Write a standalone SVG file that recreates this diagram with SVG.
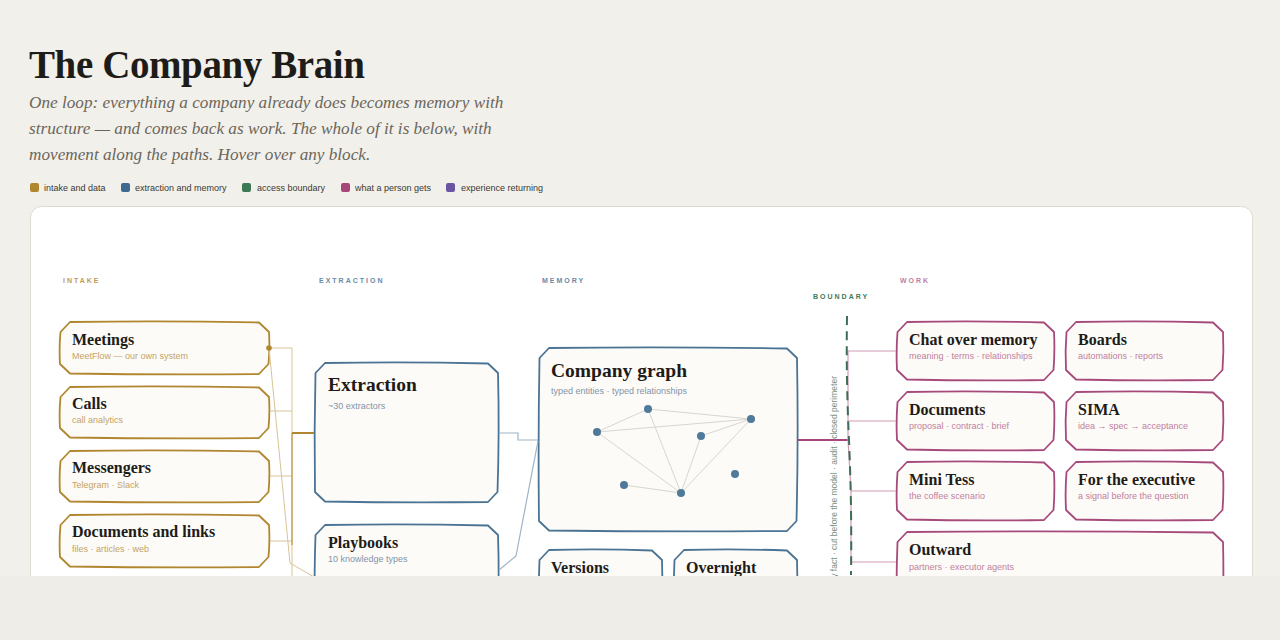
<svg xmlns="http://www.w3.org/2000/svg" width="1280" height="640" viewBox="0 0 1280 640">
<style>
.h1{font-family:"Liberation Serif",serif;font-weight:bold;font-size:39px;fill:#1e1c19;letter-spacing:-0.4px}
.lead{font-family:"Liberation Serif",serif;font-style:italic;font-size:17.2px;fill:#6b665c}
.lg{font-family:"Liberation Sans",sans-serif;font-size:9px;fill:#3a3833}
.col{font-family:"Liberation Sans",sans-serif;font-weight:bold;font-size:7px;letter-spacing:2px}
.t{font-family:"Liberation Serif",serif;font-weight:bold;font-size:16px;fill:#1e1c19}
.tl{font-family:"Liberation Serif",serif;font-weight:bold;font-size:19.5px;fill:#1e1c19}
.s{font-family:"Liberation Sans",sans-serif;font-size:9px}
.box{fill:#fdfbf7;stroke-width:1.8;stroke-linejoin:round}
.gold{stroke:#b0862f}.blue{stroke:#4a7394}.pink{stroke:#a64a7c}
.sg{fill:#c3a365}.sb{fill:#7f95aa}.sp{fill:#c07fa0}
</style>
<rect x="0" y="0" width="1280" height="640" fill="#f2f0ea"/>
<text class="h1" x="29" y="78">The Company Brain</text>
<text class="lead" x="29" y="108">One loop: everything a company already does becomes memory with</text>
<text class="lead" x="29" y="134">structure — and comes back as work. The whole of it is below, with</text>
<text class="lead" x="29" y="160">movement along the paths. Hover over any block.</text>
<g id="legend">
<rect x="30" y="183" width="9" height="9" rx="2" fill="#b0862f"/><text class="lg" x="44" y="191">intake and data</text>
<rect x="121" y="183" width="9" height="9" rx="2" fill="#3f6a8f"/><text class="lg" x="135" y="191">extraction and memory</text>
<rect x="242" y="183" width="9" height="9" rx="2" fill="#3b7a55"/><text class="lg" x="257" y="191">access boundary</text>
<rect x="341" y="183" width="9" height="9" rx="2" fill="#a8457a"/><text class="lg" x="355" y="191">what a person gets</text>
<rect x="446" y="183" width="9" height="9" rx="2" fill="#6a55a0"/><text class="lg" x="461" y="191">experience returning</text>
</g>
<rect x="30.5" y="206.5" width="1222" height="460" rx="11" fill="#ffffff" stroke="#dedbd1"/>
<g id="column-labels">
<text class="col" x="63" y="283" fill="#c29a58">INTAKE</text>
<text class="col" x="319" y="283" fill="#6a8aa6">EXTRACTION</text>
<text class="col" x="542" y="283" fill="#6a8aa6">MEMORY</text>
<text class="col" x="813" y="299" fill="#3d7a5a">BOUNDARY</text>
<text class="col" x="900" y="283" fill="#c07fa0">WORK</text>
</g>
<g id="meetings"><path class="box gold" d="M70,322 Q165,320.5 259,322.5 L269,332 Q270,348 268.5,364 L259,374 Q165,375 70,373.5 L60,364 Q59,348 60.5,332 Z"/><text class="t" x="72" y="345">Meetings</text><text class="s sg" x="72" y="359">MeetFlow — our own system</text></g>
<g id="calls"><path class="box gold" d="M70,387 Q165,385.5 259,387.5 L269,397 Q270,412 268.5,428 L259,438 Q165,439 70,437.5 L60,428 Q59,412 60.5,397 Z"/><text class="t" x="72" y="409">Calls</text><text class="s sg" x="72" y="423">call analytics</text></g>
<g id="messengers"><path class="box gold" d="M70,451 Q165,449.5 259,451.5 L269,461 Q270,476 268.5,492 L259,502 Q165,503 70,501.5 L60,492 Q59,476 60.5,461 Z"/><text class="t" x="72" y="473">Messengers</text><text class="s sg" x="72" y="488">Telegram · Slack</text></g>
<g id="documents-links"><path class="box gold" d="M70,515 Q165,513.5 259,515.5 L269,525 Q270,541 268.5,557 L259,567 Q165,568 70,566.5 L60,557 Q59,541 60.5,525 Z"/><text class="t" x="72" y="537">Documents and links</text><text class="s sg" x="72" y="552">files · articles · web</text></g>
<g id="extraction"><path class="box blue" d="M325,363 Q406,361.5 488,363.5 L498,373 Q499.5,432 497.5,492 L488,502 Q406,503 325,501.5 L315,492 Q314,432 315.5,373 Z"/><text class="tl" x="328" y="391">Extraction</text><text class="s sb" x="328" y="409">~30 extractors</text></g>
<g id="playbooks"><path class="box blue" d="M325,525 Q406,523.5 488,525.5 L498,535 Q499.5,578 497.5,610 L488,620 Q406,621 325,619.5 L315,610 Q314,578 315.5,535 Z"/><text class="t" x="328" y="548">Playbooks</text><text class="s sb" x="328" y="562">10 knowledge types</text></g>
<g id="company-graph"><path class="box blue" d="M549,348 Q668,346.5 787,348.5 L797,358 Q798.5,440 796.5,521 L787,531 Q668,532 549,530.5 L539,521 Q538,440 539.5,358 Z"/><text class="tl" x="551" y="377">Company graph</text><text class="s sb" x="551" y="394">typed entities · typed relationships</text>
<g stroke="#d6d6d2" stroke-width="1" fill="none"><path d="M597,432 L648,409 L751,419 Z M597,432 L681,493 M648,409 L681,493 M751,419 L701,436 L681,493 M751,419 L681,493 M624,485 L681,493"/></g>
<g fill="#4f7a99"><circle cx="597" cy="432" r="4"/><circle cx="648" cy="409" r="4"/><circle cx="751" cy="419" r="4"/><circle cx="701" cy="436" r="4"/><circle cx="735" cy="474" r="4"/><circle cx="624" cy="485" r="4"/><circle cx="681" cy="493" r="4"/></g></g>
<g id="versions"><path class="box blue" d="M549,550 Q600,548.5 652,550.5 L662,560 Q663,600 661.5,630 L652,640 Q600,641 549,639.5 L539,630 Q538,600 539.5,560 Z"/><text class="t" x="551" y="573">Versions</text></g>
<g id="overnight"><path class="box blue" d="M684,550 Q735,548.5 787,550.5 L797,560 Q798,600 796.5,630 L787,640 Q735,641 684,639.5 L674,630 Q673,600 674.5,560 Z"/><text class="t" x="686" y="573">Overnight</text></g>
<g id="chat"><path class="box pink" d="M907,322 Q975,320.5 1044,322.5 L1054,332 Q1055,351 1053.5,370 L1044,380 Q975,381 907,379.5 L897,370 Q896,351 897.5,332 Z"/><text class="t" x="909" y="345">Chat over memory</text><text class="s sp" x="909" y="359">meaning · terms · relationships</text></g>
<g id="boards"><path class="box pink" d="M1076,322 Q1144,320.5 1213,322.5 L1223,332 Q1224,351 1222.5,370 L1213,380 Q1144,381 1076,379.5 L1066,370 Q1065,351 1066.5,332 Z"/><text class="t" x="1078" y="345">Boards</text><text class="s sp" x="1078" y="359">automations · reports</text></g>
<g id="documents"><path class="box pink" d="M907,392 Q975,390.5 1044,392.5 L1054,402 Q1055,421 1053.5,440 L1044,450 Q975,451 907,449.5 L897,440 Q896,421 897.5,402 Z"/><text class="t" x="909" y="415">Documents</text><text class="s sp" x="909" y="429">proposal · contract · brief</text></g>
<g id="sima"><path class="box pink" d="M1076,392 Q1144,390.5 1213,392.5 L1223,402 Q1224,421 1222.5,440 L1213,450 Q1144,451 1076,449.5 L1066,440 Q1065,421 1066.5,402 Z"/><text class="t" x="1078" y="415">SIMA</text><text class="s sp" x="1078" y="429">idea → spec → acceptance</text></g>
<g id="mini-tess"><path class="box pink" d="M907,462 Q975,460.5 1044,462.5 L1054,472 Q1055,491 1053.5,510 L1044,520 Q975,521 907,519.5 L897,510 Q896,491 897.5,472 Z"/><text class="t" x="909" y="485">Mini Tess</text><text class="s sp" x="909" y="499">the coffee scenario</text></g>
<g id="executive"><path class="box pink" d="M1076,462 Q1144,460.5 1213,462.5 L1223,472 Q1224,491 1222.5,510 L1213,520 Q1144,521 1076,519.5 L1066,510 Q1065,491 1066.5,472 Z"/><text class="t" x="1078" y="485">For the executive</text><text class="s sp" x="1078" y="499">a signal before the question</text></g>
<g id="outward"><path class="box pink" d="M907,532 Q1060,530.5 1213,532.5 L1223,542 Q1224,580 1222.5,610 L1213,620 Q1060,621 907,619.5 L897,610 Q896,580 897.5,542 Z"/><text class="t" x="909" y="555">Outward</text><text class="s sp" x="909" y="570">partners · executor agents</text></g>
<g id="connectors" fill="none">
<path d="M270,348 H292 V600" stroke="#d8c398" stroke-width="1"/>
<path d="M270,411 H292 M270,476 H292 M270,541 H292" stroke="#d8c398" stroke-width="1"/>
<path d="M292,433 V545" stroke="#c9a45e" stroke-width="1.5"/>
<path d="M292,433 H314" stroke="#b0862f" stroke-width="2"/>
<path d="M269,348 L290,563 L314,577" stroke="#d8c398" stroke-width="1"/>
<circle cx="269" cy="348" r="2.8" fill="#b0862f"/>
<path d="M499,433 H518 V440 H538" stroke="#9fb3c6" stroke-width="1.2"/>
<path d="M499,570 L516,556 L538,441" stroke="#9fb3c6" stroke-width="1.2"/>
<path d="M798,440 H848" stroke="#a8457a" stroke-width="2"/>
<path d="M896,351 H848 V440 L851,491 V562 H896" stroke="#d49ab6" stroke-width="1.2"/>
<path d="M848,421 H896 M851,491 H896" stroke="#d49ab6" stroke-width="1.2"/>
<path d="M847,316 Q846,380 849,440 Q852,510 851,575" stroke="#3d6e55" stroke-width="2" stroke-dasharray="9 6"/>
<text transform="translate(837,376) rotate(-90)" text-anchor="end" font-family="Liberation Sans, sans-serif" font-size="8.5" fill="#7a9282">by fact · cut before the model · audit · closed perimeter</text>
</g>
<rect x="0" y="576" width="1280" height="64" fill="#efede7"/>
</svg>
